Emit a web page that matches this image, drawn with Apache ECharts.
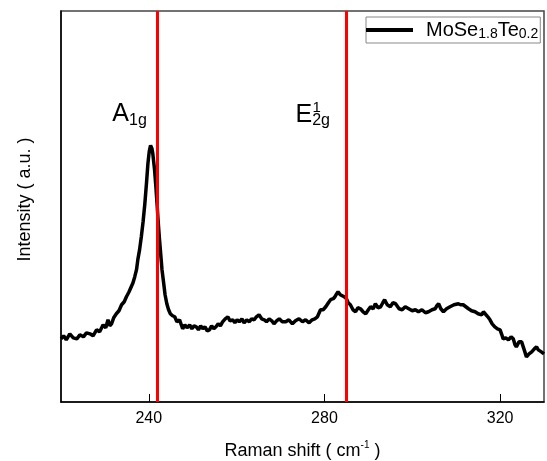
<!DOCTYPE html>
<html>
<head>
<meta charset="utf-8">
<script src="https://cdn.jsdelivr.net/npm/echarts@6/dist/echarts.min.js"></script>
<style>
html,body{margin:0;padding:0;background:#fff;}
#c{width:547px;height:461px;}
</style>
</head>
<body>
<div id="c"></div>
<script>
// Raman shift (cm^-1)
var shift = [220.0,220.6,221.2,222.0,222.8,223.6,224.3,225.1,225.8,226.6,227.3,228.1,228.8,229.6,230.2,230.7,231.1,231.5,232.0,232.6,233.2,233.8,234.4,234.9,235.5,236.0,236.4,236.8,237.2,237.5,237.9,238.3,238.7,239.1,239.5,239.8,240.1,240.4,240.7,240.9,241.3,241.6,241.9,242.1,242.4,242.7,243.0,243.4,243.7,244.1,244.5,244.9,245.4,245.9,246.4,247.0,247.4,247.7,248.2,248.7,249.3,249.8,250.3,250.8,251.3,251.8,252.3,252.8,253.3,253.8,254.3,254.8,255.3,255.8,256.3,256.8,257.4,258.0,258.5,259.1,259.6,260.1,260.6,261.2,261.7,262.3,262.9,263.4,264.0,264.5,265.1,265.7,266.3,266.8,267.4,268.0,268.5,269.1,269.7,270.4,271.2,271.9,272.7,273.4,274.2,275.0,275.7,276.5,277.2,277.8,278.4,279.1,279.7,280.3,280.9,281.4,282.0,282.4,282.8,283.1,283.6,284.0,284.5,285.0,285.4,285.9,286.5,287.1,287.6,288.2,288.8,289.4,290.0,290.5,291.1,291.6,292.2,292.8,293.3,293.7,294.3,295.0,295.6,296.2,297.0,297.7,298.4,299.2,300.0,300.7,301.4,302.2,303.0,303.7,304.5,305.2,305.6,306.0,306.5,307.1,307.8,308.6,309.5,310.5,311.0,311.6,312.2,312.8,313.5,314.3,315.0,315.8,316.2,316.6,317.2,317.7,318.2,318.8,319.4,320.0,320.4,320.7,321.3,321.9,322.5,323.0,323.4,323.7,324.3,324.9,325.5,326.0,326.6,327.2,327.8,328.3,328.7,329.0,329.4,330.0];
// Intensity (a.u.)
var intensity = [63,66,62,68,64,63,67,65,69,68,66,72,70,77,74,82,76,78,84,88,91,97,100,105,110,115,119,125,132,142,152,165,180,198,220,238,250,256,253,248,232,215,196,182,164,148,132,118,107,98,92,88,86,85,80,82,77,73,77,74,77,73,76,75,72,76,73,75,71,72,76,73,75,78,76,80,83,85,81,82,79,82,80,83,79,82,80,83,82,85,87,83,82,80,83,81,78,81,83,80,80,82,78,81,83,80,82,79,82,83,85,92,92,95,99,102,103,105,108,110,107,108,105,103,99,97,92,90,94,93,90,88,92,95,93,98,94,95,99,102,97,95,99,98,93,92,95,93,91,92,90,92,89,90,92,93,96,98,93,90,93,95,97,98,97,97,95,93,91,90,88,87,90,90,85,82,78,75,73,72,67,63,64,62,65,63,57,55,60,60,52,45,48,50,53,55,52,52,50,48];
var xTicks = [240, 280, 320];
var peakLines = [242, 285];
var seriesName = 'MoSe1.8Te0.2';

var FONT = 'Liberation Sans, Arial, sans-serif';
var data = shift.map(function (s, i) { return [s, intensity[i]]; });

var chart = echarts.init(document.getElementById('c'), null, {renderer: 'canvas'});
chart.setOption({
  animation: false,
  backgroundColor: '#fff',
  grid: {left: 61, right: 3, top: 11, bottom: 59, show: true, borderColor: '#444', borderWidth: 1.5,
         containLabel: false, outerBoundsMode: 'none'},
  legend: {
    left: 366, top: 17,
    padding: [2, 2, 2, 0],
    borderColor: '#888', borderWidth: 1,
    icon: 'rect', itemWidth: 47, itemHeight: 4,
    data: [{name: seriesName, itemStyle: {color: '#000'}}],
    formatter: function () { return 'MoSe{s|1.8}Te{s|0.2}'; },
    textStyle: {
      fontFamily: FONT, fontSize: 20, color: '#000', lineHeight: 22, padding: [0, 0, 0, 8],
      rich: {s: {fontFamily: FONT, fontSize: 14, color: '#000', lineHeight: 8, verticalAlign: 'bottom'}}
    }
  },
  xAxis: {
    type: 'value', min: 220, max: 330,
    name: 'Raman shift ( cm{sup|-1} )', nameLocation: 'middle', nameGap: 38,
    nameTextStyle: {fontFamily: FONT, fontSize: 18, color: '#000', lineHeight: 22,
      rich: {sup: {fontFamily: FONT, fontSize: 10, color: '#000', lineHeight: 16, verticalAlign: 'top'}}},
    axisLine: {show: true, lineStyle: {color: '#000', width: 1.5}},
    axisTick: {show: true, inside: true, length: 8, customValues: xTicks, lineStyle: {color: '#000', width: 1}},
    axisLabel: {customValues: xTicks, fontFamily: FONT, fontSize: 16, color: '#000', margin: 9},
    splitLine: {show: false}
  },
  yAxis: {
    type: 'value', min: 0, max: 390,
    name: 'Intensity ( a.u. )', nameLocation: 'middle', nameGap: 27,
    nameTextStyle: {fontFamily: FONT, fontSize: 18, color: '#000', padding: [0, 0, 0, 14]},
    axisLine: {show: true, lineStyle: {color: '#000', width: 1.5}},
    axisTick: {show: false}, axisLabel: {show: false}, splitLine: {show: false}
  },
  series: [{
    name: seriesName, type: 'line', data: data,
    showSymbol: false, symbol: 'none',
    lineStyle: {color: '#000', width: 3.5}, itemStyle: {color: '#000'},
    markLine: {
      silent: true, symbol: ['none', 'none'], label: {show: false},
      lineStyle: {color: '#f00', width: 3, type: 'solid'},
      data: peakLines.map(function (v) { return {xAxis: v}; })
    },
    markPoint: {
      silent: true, symbol: 'circle', symbolSize: 0,
      label: {show: true, position: 'inside', align: 'left', verticalAlign: 'bottom', color: '#000', fontFamily: FONT},
      data: [
        {coord: [231.7, 272.7], label: {formatter: '{a|A}{s|1g}',
          rich: {a: {fontFamily: FONT, fontSize: 25, lineHeight: 28, color: '#000'},
                 s: {fontFamily: FONT, fontSize: 16, lineHeight: 10, verticalAlign: 'bottom', color: '#000'}}}},
        {coord: [273.4, 272.5], label: {formatter: '{a|E}{s|2g}',
          rich: {a: {fontFamily: FONT, fontSize: 25, lineHeight: 28, color: '#000'},
                 s: {fontFamily: FONT, fontSize: 16, lineHeight: 12, verticalAlign: 'bottom', color: '#000'}}}},
        {coord: [277.3, 284.7], label: {formatter: '{b|1}',
          rich: {b: {fontFamily: FONT, fontSize: 15, lineHeight: 18, color: '#000'}}}}
      ]
    }
  }]
});
</script>
</body>
</html>
